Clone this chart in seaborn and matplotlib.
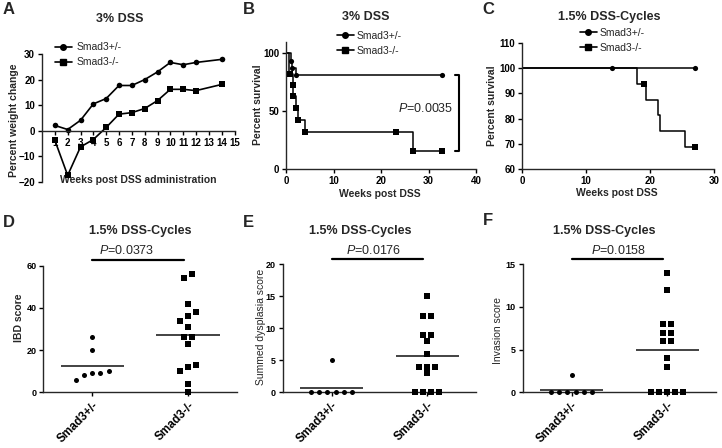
import numpy as np
import pandas as pd
import seaborn as sns
import matplotlib
matplotlib.use("Agg")
import matplotlib.pyplot as plt
from matplotlib.lines import Line2D

# ---- data ----
genotypes = ["Smad3+/-", "Smad3-/-"]

# A: percent weight change, 3% DSS
weeks = [1, 2, 3, 4, 5, 6, 7, 8, 9, 10, 11, 12, 14]
weight_het = [2.1, 0.5, 4.1, 10.5, 12.6, 17.7, 17.7, 20.0, 23.0, 26.7, 25.8, 26.7, 27.9]
weight_ko = [-3.7, -17.4, -6.3, -3.4, 1.3, 6.5, 7.1, 8.7, 11.8, 16.2, 16.2, 15.7, 18.1]

# B: survival, 3% DSS (step curves + symbol positions)
b_het_t = [0, 1.0, 1.3, 2.0, 33]
b_het_s = [100, 93.75, 87.5, 81.25, 81.25]
b_het_mark_t = [1.0, 1.25, 2.0, 32.8]
b_het_mark_s = [93.75, 87.5, 81.25, 81.25]
b_ko_t = [0, 0.7, 1.4, 1.55, 2.0, 2.5, 4.0, 26.7, 33]
b_ko_s = [100, 81.8, 72.7, 63.6, 53.0, 42.4, 31.8, 15.9, 15.9]
b_ko_mark_t = [0.8, 1.4, 1.55, 2.0, 2.5, 4.0, 23.2, 26.8, 32.8]
b_ko_mark_s = [81.8, 72.7, 63.6, 53.0, 42.4, 31.8, 31.8, 15.9, 15.9]
b_pvalue = "0.0035"

# C: survival, 1.5% DSS cycles
c_het_t = [0, 14, 27]
c_het_s = [100, 100, 100]
c_het_mark_t = [14, 27]
c_het_mark_s = [100, 100]
c_ko_t = [0, 18.0, 19.4, 21.3, 21.6, 25.5, 27]
c_ko_s = [100, 93.75, 87.5, 81.25, 75.0, 68.75, 68.75]
c_ko_mark_t = [19.0, 27.0]
c_ko_mark_s = [93.75, 68.75]

# D-F: histology scores
ibd_het = [26, 20, 9, 10, 8, 9, 6]
ibd_ko = [56, 54, 42, 38, 36, 34, 31, 26, 26, 23, 13, 12, 10, 4, 0]
dys_het = [5, 0, 0, 0, 0, 0, 0]
dys_ko = [15, 12, 12, 9, 9, 8, 6, 4, 4, 4, 3, 0, 0, 0, 0]
inv_het = [2, 0, 0, 0, 0, 0, 0]
inv_ko = [14, 12, 8, 8, 7, 7, 6, 6, 4, 3, 0, 0, 0, 0, 0]
score_pvalues = ["0.0373", "0.0176", "0.0158"]

# ---- styling ----
sns.set_style("ticks")
plt.rcParams["font.family"] = ["Liberation Sans", "DejaVu Sans"]
plt.rcParams["mathtext.fontset"] = "custom"
plt.rcParams["mathtext.rm"] = "Liberation Sans"
plt.rcParams["mathtext.it"] = "Liberation Sans:italic"
plt.rcParams["axes.linewidth"] = 1.0
plt.rcParams["xtick.major.width"] = 1.0
plt.rcParams["ytick.major.width"] = 1.0
plt.rcParams["xtick.major.size"] = 3
plt.rcParams["ytick.major.size"] = 3

W, H = 722, 448
fig = plt.figure(figsize=(W / 100, H / 100), dpi=100)


def fx(x):
    return x / W


def fy(y):
    return 1 - y / H


def px_axes(left, top, right, bottom):
    return fig.add_axes([left / W, 1 - bottom / H, (right - left) / W, (bottom - top) / H])


def style_ax(ax, tick_size=7):
    sns.despine(ax=ax)
    ax.tick_params(direction="out", labelsize=tick_size, pad=2, colors="black")
    for lab in ax.get_xticklabels() + ax.get_yticklabels():
        lab.set_fontweight("bold")


def spread(values, tol, step):
    # GraphPad-like horizontal spreading of tied / close values
    v = np.asarray(values, float)
    order = np.argsort(v, kind="stable")
    offs = np.zeros(len(v))
    groups, cur = [], [order[0]]
    for i in order[1:]:
        if v[i] - v[cur[-1]] < tol:
            cur.append(i)
        else:
            groups.append(cur)
            cur = [i]
    groups.append(cur)
    for g in groups:
        n = len(g)
        offs[g] = (np.arange(n) - (n - 1) / 2) * step
    return offs


het_handle = Line2D([], [], color="black", marker="o", ms=4, lw=1.2)
ko_handle = Line2D([], [], color="black", marker="s", ms=4.2, lw=1.2)


def add_legend(x, y, pad=0.45):
    fig.legend([het_handle, ko_handle], genotypes, loc="upper left",
               bbox_to_anchor=(fx(x), fy(y)), frameon=False, fontsize=7.5,
               handlelength=1.6, handletextpad=pad, labelspacing=0.45,
               borderpad=0, borderaxespad=0)


# ---- A ----
axA = px_axes(42, 54, 234.5, 182)
sns.lineplot(x=weeks, y=weight_het, ax=axA, color="black", marker="o", markersize=4,
             markeredgewidth=0, lw=1.2, legend=False)
sns.lineplot(x=weeks, y=weight_ko, ax=axA, color="black", marker="s", markersize=4.2,
             markeredgewidth=0, lw=1.2, legend=False)
axA.set_xlim(0, 15)
axA.set_ylim(-20, 30)
axA.set_xticks(range(1, 16))
axA.set_yticks([-20, -10, 0, 10, 20, 30])
axA.spines["bottom"].set_position(("data", 0))
style_ax(axA)
axA.set_ylabel("Percent weight change", fontsize=7.5, weight="bold", va="center")
axA.yaxis.set_label_coords(-0.145, 0.48)
axA.set_xlabel("Weeks post DSS administration", fontsize=7.5, weight="bold", va="center")
axA.xaxis.set_label_coords(0.5, 0.016)
fig.text(fx(120), fy(19), "3% DSS", ha="center", va="center", fontsize=9, weight="bold")
add_legend(55, 42.5)


# ---- B / C survival ----
def km(ax, t, s, mt, ms, marker, size):
    sns.lineplot(x=t, y=s, ax=ax, color="black", lw=1.1, drawstyle="steps-post",
                 estimator=None, sort=False, legend=False)
    sns.scatterplot(x=mt, y=ms, ax=ax, color="black", marker=marker, s=size,
                    linewidth=0, legend=False, zorder=3)


axB = px_axes(286, 41.7, 476, 169.3)
km(axB, b_het_t, b_het_s, b_het_mark_t, b_het_mark_s, "o", 14)
km(axB, b_ko_t, b_ko_s, b_ko_mark_t, b_ko_mark_s, "s", 18)
axB.plot([35.6, 36.5, 36.5, 35.6], [b_het_s[-1], b_het_s[-1], b_ko_s[-1], b_ko_s[-1]],
         color="black", lw=1.5, clip_on=False)
axB.text(29.5, 52, f"$P$={b_pvalue}", ha="center", va="center", fontsize=9)
axB.set_xlim(0, 40)
axB.set_ylim(0, 110)
axB.set_xticks([0, 10, 20, 30, 40])
axB.set_yticks([0, 50, 100])
style_ax(axB)
axB.set_ylabel("Percent survival", fontsize=7.5, weight="bold", va="center")
axB.yaxis.set_label_coords((258 - 286) / 190, (169.3 - 105) / 127.6)
axB.set_xlabel("Weeks post DSS", fontsize=7.5, weight="bold", va="center")
axB.xaxis.set_label_coords((380 - 286) / 190, (169.3 - 194) / 127.6)
fig.text(fx(366), fy(17), "3% DSS", ha="center", va="center", fontsize=9, weight="bold")
add_legend(337, 31, pad=0.3)

axC = px_axes(522, 43, 714, 169)
km(axC, c_het_t, c_het_s, c_het_mark_t, c_het_mark_s, "o", 14)
km(axC, c_ko_t, c_ko_s, c_ko_mark_t, c_ko_mark_s, "s", 18)
axC.set_xlim(0, 30)
axC.set_ylim(60, 110)
axC.set_xticks([0, 10, 20, 30])
axC.set_yticks([60, 70, 80, 90, 100, 110])
style_ax(axC)
axC.set_ylabel("Percent survival", fontsize=7.5, weight="bold", va="center")
axC.yaxis.set_label_coords((492 - 522) / 192, (169 - 106) / 126)
axC.set_xlabel("Weeks post DSS", fontsize=7.5, weight="bold", va="center")
axC.xaxis.set_label_coords((617 - 522) / 192, (169 - 193) / 126)
fig.text(fx(609), fy(17), "1.5% DSS-Cycles", ha="center", va="center", fontsize=9, weight="bold")
add_legend(580, 28, pad=0.3)


# ---- D / E / F scatter scores ----
def scores(ax, het, ko, top, yticks, ylabel, ybold, pval, ptext_x, title_x, ylab_x, ylab_y,
           box):
    left, t, right, bottom = box
    df = pd.DataFrame({
        "genotype": [genotypes[0]] * len(het) + [genotypes[1]] * len(ko),
        "score": het + ko,
    })
    tol = 0.042 * top
    for i, (g, marker, size) in enumerate([(genotypes[0], "o", 13), (genotypes[1], "s", 17)]):
        sub = df[df["genotype"] == g].reset_index(drop=True)
        sub["x"] = i + spread(sub["score"], tol, 0.085)
        sns.scatterplot(data=sub, x="x", y="score", ax=ax, color="black", marker=marker,
                        s=size, linewidth=0, legend=False, clip_on=False, zorder=3)
        ax.hlines(sub["score"].mean(), i - 0.33, i + 0.33, color="#222222", lw=1.2)
    ax.plot([0, 0.96], [top * 1.045, top * 1.045], color="black", lw=1.6, clip_on=False)
    ax.set_xlim(-0.51, 1.51)
    ax.set_ylim(0, top)
    ax.set_yticks(yticks)
    ax.set_xticks([0, 1])
    style_ax(ax, tick_size=6.5)
    ax.set_xticklabels(genotypes, rotation=45, ha="right", rotation_mode="anchor",
                       fontsize=8.5, weight="bold")
    ax.set_xlabel("")
    ax.set_ylabel(ylabel, fontsize=7.5, weight="bold" if ybold else "normal", va="center")
    w, h = right - left, bottom - t
    ax.yaxis.set_label_coords((ylab_x - left) / w, (bottom - ylab_y) / h)
    fig.text(fx(title_x), fy(231), "1.5% DSS-Cycles", ha="center", va="center",
             fontsize=9, weight="bold")
    fig.text(fx(ptext_x), fy(251), f"$P$={pval}", ha="center", va="center", fontsize=9)


boxD = (43.3, 265.7, 237, 392.3)
axD = px_axes(*boxD)
scores(axD, ibd_het, ibd_ko, 60, [0, 20, 40, 60], "IBD score", True, score_pvalues[0],
       127, 140, 19, 318, boxD)

boxE = (282.7, 264.3, 476, 392.3)
axE = px_axes(*boxE)
scores(axE, dys_het, dys_ko, 20, [0, 5, 10, 15, 20], "Summed dysplasia score", False,
       score_pvalues[1], 374, 360, 261, 327, boxE)

boxF = (522.7, 264.3, 716, 392.3)
axF = px_axes(*boxF)
scores(axF, inv_het, inv_ko, 15, [0, 5, 10, 15], "Invasion score", False,
       score_pvalues[2], 619, 604, 498, 330, boxF)

# panel letters
for letter, x, y in [("A", 3, 10), ("B", 243, 10), ("C", 482, 10),
                     ("D", 3, 222), ("E", 243, 222), ("F", 483, 220)]:
    fig.text(fx(x), fy(y), letter, ha="left", va="center", fontsize=12, weight="bold")

fig.savefig("out.png", dpi=100)
